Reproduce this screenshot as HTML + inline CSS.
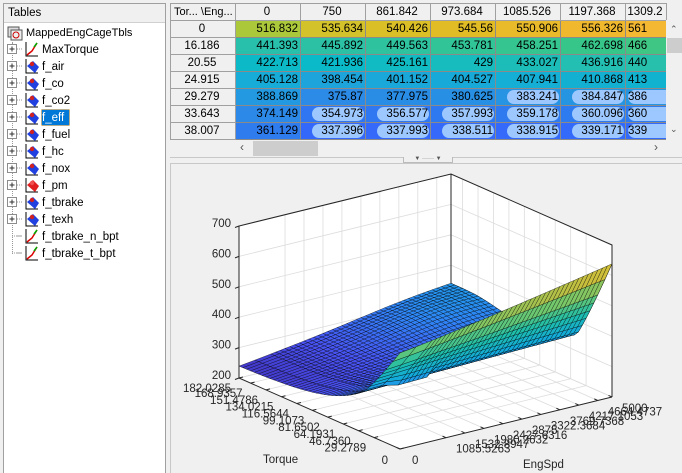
<!DOCTYPE html>
<html><head><meta charset="utf-8"><style>
*{margin:0;padding:0;box-sizing:border-box}
body{width:682px;height:473px;overflow:hidden;background:#f0f0f0;font-family:"Liberation Sans",sans-serif;font-size:11px;color:#000;position:relative}
.abs{position:absolute}
#left{left:3px;top:3px;width:163px;height:470px;background:#fff;border:1px solid #a0a0a0;border-bottom:none}
#lh{left:0;top:0;width:161px;height:19px;background:#f0f0f0;border-bottom:1px solid #d0d0d0;padding:3px 0 0 4px;font-size:11.5px}
.tr{position:absolute;left:0;height:17px;line-height:17px;white-space:nowrap}
table{border-collapse:collapse;position:absolute;left:170px;top:3px;table-layout:fixed}
td{height:17px;border:1px solid #8a8a8a;text-align:right;padding:0 2px 0 0;font-size:11.5px;white-space:nowrap;overflow:hidden;position:relative}
td.h{background:#f0f0f0;text-align:center;border-color:#a0a0a0}
.pill{position:absolute;right:1px;top:1px;height:14px;width:52px;border-radius:7px;background:#9cc8ff}
.pill span{position:absolute;right:1px;top:0;line-height:14px}
</style></head><body>
<div id="left" class="abs">
<div id="lh" class="abs">Tables</div>
<div class="tr" style="top:21px;left:2px">
<svg class="abs" style="left:0;top:0" width="18" height="17"><rect x="2" y="2" width="11" height="10" fill="#ddd" stroke="#555"/><rect x="5" y="5" width="11" height="10" fill="#eee" stroke="#555"/><circle cx="10" cy="10" r="3" fill="none" stroke="#c00"/></svg>
<span class="abs" style="left:20px;top:0">MappedEngCageTbls</span></div>
<div style="position:absolute;left:8px;top:38px;height:212px;border-left:1px dotted #999"></div>
</div>
<svg class="abs" style="left:0;top:0" width="682" height="473" id="tree"></svg>
<table id="tb"></table>
<div class="abs" style="left:666px;top:20px;width:16px;height:120px;background:#f0f0f0"></div>
<div class="abs" style="left:667px;top:38px;width:15px;height:15px;background:#cdcdcd"></div>
<div class="abs" style="left:670px;top:24px;font-size:9px;color:#555">&#8963;</div>
<div class="abs" style="left:670px;top:124px;font-size:9px;color:#555">&#8964;</div>
<div class="abs" style="left:171px;top:140px;width:495px;height:17px;background:#f0f0f0"></div>
<div class="abs" style="left:253px;top:141px;width:65px;height:15px;background:#cdcdcd"></div>
<div class="abs" style="left:240px;top:140px;font-size:12px;color:#555">&#8249;</div>
<div class="abs" style="left:654px;top:140px;font-size:12px;color:#555">&#8250;</div>
<div class="abs" style="left:170px;top:157px;width:512px;height:1px;background:#c8c8c8"></div>
<div class="abs" style="left:403px;top:157px;width:50px;height:6px;border:1px solid #bbb;border-top:none;background:#f0f0f0;font-size:6px;line-height:4px;color:#555;text-align:center">&#9660; ······ &#9660;</div>
<div class="abs" style="left:170px;top:163px;width:512px;height:310px;border:1px solid #c8c8c8;border-right:none;border-bottom:none"></div>
<svg class="abs" style="left:0;top:0" width="682" height="473" id="plot"></svg>
<script>
(function(){
var names=["MaxTorque","f_air","f_co","f_co2","f_eff","f_fuel","f_hc","f_nox","f_pm","f_tbrake","f_texh","f_tbrake_n_bpt","f_tbrake_t_bpt"];
var s="";
names.forEach(function(n,i){
 var cy=49+17*i, y=cy-8;
 if(i<11){s+='<rect x="7.5" y="'+(cy-4.5)+'" width="9" height="9" fill="#fff" stroke="#8c8c8c"/><line x1="9.5" x2="14.5" y1="'+cy+'" y2="'+cy+'" stroke="#333"/><line x1="12" x2="12" y1="'+(cy-2.5)+'" y2="'+(cy+2.5)+'" stroke="#333"/>';}
 else {s+='<line x1="12" x2="22" y1="'+cy+'" y2="'+cy+'" stroke="#999" stroke-dasharray="1,1"/>';}
 s+='<line x1="17" x2="23" y1="'+cy+'" y2="'+cy+'" stroke="#999" stroke-dasharray="1,1"/>';
 s+='<polyline points="26,'+(y+1)+' 26,'+(y+15)+' 38,'+(y+15)+'" fill="none" stroke="#000" stroke-width="1"/>';
 if(i==0||i>10){s+='<polyline points="27,'+(y+14)+' 32,'+(y+10)+' 37,'+(y+2)+'" fill="none" stroke="#d00" stroke-width="1.5"/><line x1="34" y1="'+(y+6)+'" x2="37" y2="'+(y+2)+'" stroke="#0a0" stroke-width="1.5"/>';}
 else{var c=(i==8)?"#e02020":"#2040e0";s+='<polygon points="27,'+(y+8)+' 33,'+(y+3)+' 39,'+(y+9)+' 35,'+(y+15)+'" fill="'+c+'"/><circle cx="32" cy="'+(y+6)+'" r="2.2" fill="'+(i==8?"#f05050":"#d02020")+'"/>';}
 if(i==4){s+='<rect x="41.5" y="'+(y+0.5)+'" width="28" height="16" fill="#0078d7" stroke="#f0a030" stroke-dasharray="1,1"/>';}
 s+='<text x="42" y="'+(cy+4)+'" font-family="Liberation Sans" font-size="11.5" fill="'+(i==4?"#fff":"#000")+'">'+n+'</text>';
});
document.getElementById("tree").innerHTML=s;
})();
(function(){
var cols=["0","750","861.842","973.684","1085.526","1197.368","1309.2"];
var rows=["0","16.186","20.55","24.915","29.279","33.643","38.007"];
var d=[[516.832,535.634,540.426,545.56,550.906,556.326,"561"],
[441.393,445.892,449.563,453.781,458.251,462.698,"466"],
[422.713,421.936,425.161,429,433.027,436.916,"440"],
[405.128,398.454,401.152,404.527,407.941,410.868,"413"],
[388.869,375.87,377.975,380.625,383.241,384.847,"386"],
[374.149,354.973,356.577,357.993,359.178,360.096,"360"],
[361.129,337.396,337.993,338.511,338.915,339.171,"339"]];
var st=[[337,52,104,250],[355,48,118,242],[361,46,124,238],[374,44,137,232],[389,34,153,224],[405,23,171,216],[422,11,186,200],[441,41,192,172],[462,54,198,138],[516,169,200,60],[535,210,194,42],[545,225,188,37],[556,240,184,45],[566,248,184,56]];
function col(v){if(v<=st[0][0])return "rgb("+st[0].slice(1)+")";for(var k=1;k<st.length;k++){if(v<=st[k][0]){var a=st[k-1],b=st[k],t=(v-a[0])/(b[0]-a[0]);return "rgb("+[1,2,3].map(function(j){return Math.round(a[j]+(b[j]-a[j])*t)})+")";}}return "rgb("+st[st.length-1].slice(1)+")";}
var w=[65,65,65,65,65,65,65,41];
var h='<colgroup>'+w.map(function(x){return '<col style="width:'+x+'px">'}).join('')+'</colgroup>';
h+='<tr><td class="h" style="text-align:left;padding-left:3px;font-size:11px">Tor... \\Eng...</td>'+cols.map(function(c){return '<td class="h">'+c+'</td>'}).join('')+'</tr>';
var pill=[[],[],[],[],[4,5,6],[1,2,3,4,5,6],[1,2,3,4,5,6]];
rows.forEach(function(r,i){
 h+='<tr><td class="h">'+r+'</td>';
 d[i].forEach(function(v,j){var nv=parseFloat(v);var txt=String(v);
  var bs=j==6?'text-align:left;padding-left:2px;':'';
  if(pill[i].indexOf(j)>=0){
   h+='<td style="background:'+col(nv)+';'+bs+'">'+(j==6?'<div class="pill" style="left:2px;right:auto;width:60px"><span style="left:0;right:auto">'+txt+'</span></div>':'<div class="pill"><span>'+txt+'</span></div>')+'&nbsp;</td>';
  } else h+='<td style="background:'+col(nv)+';'+bs+'">'+txt+'</td>';
 });
 h+='</tr>';
});
document.getElementById("tb").innerHTML=h;
})();
(function(){
var TM=182.0285,SM=5000;
function P(T,S,z){return [400+(T/TM)*(-161)+(S/SM)*212, 449+(T/TM)*(-71)+(S/SM)*(-52)-(z-200)*0.304];}
function pt(p){return p[0].toFixed(1)+","+p[1].toFixed(1);}
var s="";
var LF=P(TM,0,200),LT=P(TM,0,700),BF=P(TM,SM,200),BT=P(TM,SM,700),RF=P(0,SM,200),RT=P(0,SM,700),FF=P(0,0,200);
s+='<polygon points="'+[LF,LT,BT,RT,RF,FF].map(pt).join(" ")+'" fill="#fff"/>';
var tt=[0,29.2789,46.7360,64.1931,81.6502,99.1073,116.5644,134.0215,151.4786,168.9357,182.0285];
var ss=[0,1085.5263,1532.8947,1980.2632,2427.6316,2875,3322.3684,3769.7368,4217.1053,4664.4737,5000];
var g='stroke="#dcdcdc" stroke-width="0.8"';
[200,300,400,500,600,700].forEach(function(z){
 s+='<polyline points="'+[P(TM,0,z),P(TM,SM,z),P(0,SM,z)].map(pt).join(" ")+'" fill="none" '+g+'/>';
});
tt.forEach(function(T){s+='<line x1="'+P(T,SM,200)[0]+'" y1="'+P(T,SM,200)[1]+'" x2="'+P(T,SM,700)[0]+'" y2="'+P(T,SM,700)[1]+'" '+g+'/>';
 s+='<line x1="'+P(T,0,200)[0]+'" y1="'+P(T,0,200)[1]+'" x2="'+P(T,SM,200)[0]+'" y2="'+P(T,SM,200)[1]+'" '+g+'/>';});
ss.forEach(function(S){s+='<line x1="'+P(TM,S,200)[0]+'" y1="'+P(TM,S,200)[1]+'" x2="'+P(TM,S,700)[0]+'" y2="'+P(TM,S,700)[1]+'" '+g+'/>';
 s+='<line x1="'+P(0,S,200)[0]+'" y1="'+P(0,S,200)[1]+'" x2="'+P(TM,S,200)[0]+'" y2="'+P(TM,S,200)[1]+'" '+g+'/>';});
var k='stroke="#262626" stroke-width="1"';
s+='<polyline points="'+[LF,LT,BT,RT,RF].map(pt).join(" ")+'" fill="none" '+k+'/>';
s+='<line x1="'+BT[0]+'" y1="'+BT[1]+'" x2="'+BF[0]+'" y2="'+BF[1]+'" '+k+'/>';
function f(T,S){var sv=S/SM;
 function gg(T){var a=236+104*Math.exp(-(T-40)/40);var b=15+79*(T-40)/142;var hump=25*Math.exp(-Math.pow((T-150)/35,2))*Math.exp(-Math.pow((sv-0.8)/0.35,2));return a+sv*b+hump;}
 if(T>=40)return gg(T);
 var r0=516+122*Math.pow(sv,1.1);var u=T/40;var h=Math.pow(1-u,1.1);
 var dip=(T>25&&sv<0.3&&sv>0.1)?-15*(T-25)/15:0;
 return gg(40)+(r0-gg(40))*h+dip;}
var Ts=[0,8,16.186];for(var t=20.55;t<TM;t+=4.3643)Ts.push(t);Ts.push(TM);
var Ss=[0,375,750];for(var q=861.842;q<SM;q+=111.842)Ss.push(q);Ss.push(SM);
var par=[[0,62,38,168],[0.1,72,82,244],[0.2,45,135,247],[0.3,18,170,220],[0.45,30,190,170],[0.6,110,200,110],[0.75,200,190,60],[0.9,250,200,40],[1,249,251,14]];
function pc(z){var v=(z-220)/(720-220);v=Math.max(0,Math.min(1,v));for(var i=1;i<par.length;i++){if(v<=par[i][0]){var a=par[i-1],b=par[i],t=(v-a[0])/(b[0]-a[0]);return "rgb("+[1,2,3].map(function(j){return Math.round(a[j]+(b[j]-a[j])*t)})+")";}}}
var cells=[];
for(var i=0;i<Ts.length-1;i++)for(var j=0;j<Ss.length-1;j++){
 var T0=Ts[i],T1=Ts[i+1],S0=Ss[j],S1=Ss[j+1];
 var z00=f(T0,S0),z01=f(T0,S1),z10=f(T1,S0),z11=f(T1,S1);
 cells.push({d:71*(T0+T1)/2/TM+52*(S0+S1)/2/SM,p:[P(T0,S0,z00),P(T0,S1,z01),P(T1,S1,z11),P(T1,S0,z10)],z:(z00+z01+z10+z11)/4});
}
cells.sort(function(a,b){return b.d-a.d});
cells.forEach(function(c){s+='<polygon points="'+c.p.map(pt).join(" ")+'" fill="'+pc(c.z)+'" stroke="#000" stroke-width="0.45" stroke-opacity="0.75"/>';});
s+='<polyline points="'+[LF,FF,RF].map(pt).join(" ")+'" fill="none" '+k+'/>';
s+='<line x1="'+LF[0]+'" y1="'+LF[1]+'" x2="'+LT[0]+'" y2="'+LT[1]+'" '+k+'/>';
s+='<line x1="'+RF[0]+'" y1="'+RF[1]+'" x2="'+RT[0]+'" y2="'+RT[1]+'" '+k+'/>';
var tf='font-family="Liberation Sans" font-size="11.5" fill="#262626"';
[200,300,400,500,600,700].forEach(function(z){var p=P(TM,0,z);s+='<line x1="'+p[0]+'" y1="'+p[1]+'" x2="'+(p[0]-4)+'" y2="'+(p[1]+1.5)+'" '+k+'/><text x="'+(p[0]-8)+'" y="'+(p[1]+1)+'" text-anchor="end" '+tf+'>'+z+'</text>';});
var tl=["0","29.2789","46.7360","64.1931","81.6502","99.1073","116.5644","134.0215","151.4786","168.9357","182.0285"];
tt.forEach(function(T,i){var p=P(T,0,200);s+='<line x1="'+p[0]+'" y1="'+p[1]+'" x2="'+(p[0]+4)+'" y2="'+(p[1]-1)+'" '+k+'/><text x="'+(p[0]-(i==0?12:8))+'" y="'+(p[1]+(i==0?15:14))+'" text-anchor="end" '+tf+'>'+tl[i]+'</text>';});
var sl=["0","1085.5263","1532.8947","1980.2632","2427.6316","2875","3322.3684","3769.7368","4217.1053","4664.4737","5000"];
ss.forEach(function(S,i){var p=P(0,S,200);s+='<line x1="'+p[0]+'" y1="'+p[1]+'" x2="'+(p[0]-3.5)+'" y2="'+(p[1]-1.6)+'" '+k+'/><text x="'+(p[0]+(i==0?12:10))+'" y="'+(p[1]+15)+'" '+tf+'>'+sl[i]+'</text>';});
s+='<text x="263" y="463" '+tf+'>Torque</text><text x="523" y="468" '+tf+'>EngSpd</text>';
document.getElementById("plot").innerHTML=s;
})();
</script>
</body></html>
